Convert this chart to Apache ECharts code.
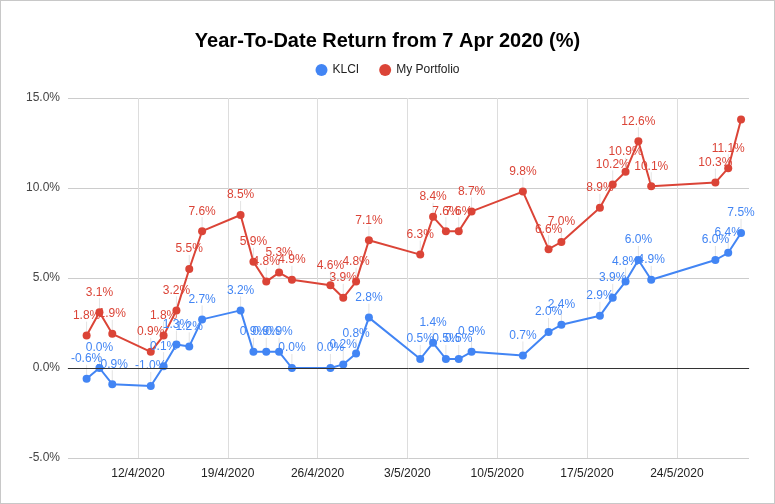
<!DOCTYPE html>
<html>
<head>
<meta charset="utf-8">
<script src="https://cdn.jsdelivr.net/npm/echarts@6/dist/echarts.min.js"></script>
<style>
html,body{margin:0;padding:0;background:#fff;}
#c{width:773px;height:502px;border:1px solid #c8c8c8;}
</style>
</head>
<body>
<div id="c"></div>
<script>
const dates = ['2020-04-08','2020-04-09','2020-04-10','2020-04-13','2020-04-14','2020-04-15','2020-04-16','2020-04-17',
  '2020-04-20','2020-04-21','2020-04-22','2020-04-23','2020-04-24','2020-04-27','2020-04-28','2020-04-29','2020-04-30',
  '2020-05-04','2020-05-05','2020-05-06','2020-05-07','2020-05-08','2020-05-12','2020-05-14','2020-05-15',
  '2020-05-18','2020-05-19','2020-05-20','2020-05-21','2020-05-22','2020-05-27','2020-05-28','2020-05-29'];
const klci = [-0.6, 0.0, -0.9, -1.0, 0.1, 1.3, 1.2, 2.7, 3.2, 0.9, 0.9, 0.9, 0.0, 0.0, 0.2, 0.8, 2.8,
  0.5, 1.4, 0.5, 0.5, 0.9, 0.7, 2.0, 2.4, 2.9, 3.9, 4.8, 6.0, 4.9, 6.0, 6.4, 7.5];
const portfolio = [1.8, 3.1, 1.9, 0.9, 1.8, 3.2, 5.5, 7.6, 8.5, 5.9, 4.8, 5.3, 4.9, 4.6, 3.9, 4.8, 7.1,
  6.3, 8.4, 7.6, 7.6, 8.7, 9.8, 6.6, 7.0, 8.9, 10.2, 10.9, 12.6, 10.1, 10.3, 11.1, 13.8];
const weekTicks = ['2020-04-12','2020-04-19','2020-04-26','2020-05-03','2020-05-10','2020-05-17','2020-05-24'];
const xRange = ['2020-04-06', '2020-05-29'];
const yTicks = [-5, 0, 5, 10, 15];
const hiddenLabels = { 'My Portfolio': ['2020-05-29'] };

const DAY = 86400000;
const ORIGIN = Date.UTC(2020, 0, 1);
function dayNum(s) { const p = s.split('-').map(Number); return (Date.UTC(p[0], p[1] - 1, p[2]) - ORIGIN) / DAY; }
function dayLabel(n) { const d = new Date(ORIGIN + Math.round(n) * DAY); return d.getUTCDate() + '/' + (d.getUTCMonth() + 1) + '/' + d.getUTCFullYear(); }

const FONT = '"Liberation Sans", Arial, sans-serif';
function ser(name, vals, color) {
  return {
    name: name, type: 'line', symbol: 'circle', symbolSize: 8,
    lineStyle: { width: 2, color: color }, itemStyle: { color: color },
    data: dates.map((d, i) => {
      const o = { value: [dayNum(d), vals[i]] };
      if ((hiddenLabels[name] || []).includes(d)) o.label = { show: false };
      return o;
    }),
    label: { show: true, position: 'top', distance: 4, color: color, fontFamily: FONT, fontSize: 12,
      formatter: p => p.value[1].toFixed(1) + '%' },
    labelLayout: { dy: -6 },
    labelLine: { show: true, lineStyle: { color: '#e3e3e3', width: 1 } },
    animation: false
  };
}
const ticks = weekTicks.map(dayNum);
const chart = echarts.init(document.getElementById('c'));
chart.setOption({
  animation: false,
  title: { text: 'Year-To-Date Return from 7 Apr 2020 (%)', left: 'center', top: 25,
    textStyle: { fontFamily: FONT, fontSize: 20, fontWeight: 'bold', color: '#000' } },
  legend: { top: 58, left: 'center', icon: 'circle', itemWidth: 12, itemHeight: 12, itemGap: 20,
    data: ['KLCI', 'My Portfolio'],
    textStyle: { fontFamily: FONT, fontSize: 12, color: '#222' } },
  grid: { left: 67, right: 25, top: 97, bottom: 45 },
  xAxis: {
    type: 'value', min: dayNum(xRange[0]) + 0.55, max: dayNum(xRange[1]) + 0.62,
    axisLine: { lineStyle: { color: '#cccccc' } },
    axisTick: { show: false, customValues: ticks },
    splitLine: { show: true, lineStyle: { color: '#dddddd', width: 1 } },
    axisLabel: { customValues: ticks, color: '#222', fontFamily: FONT, fontSize: 12, margin: 10,
      formatter: v => dayLabel(v) }
  },
  yAxis: {
    type: 'value', min: yTicks[0], max: yTicks[yTicks.length - 1], interval: 5,
    axisLine: { show: false }, axisTick: { show: false },
    splitLine: { lineStyle: { color: '#cccccc' } },
    axisLabel: { color: '#444', fontFamily: FONT, fontSize: 12, margin: 8, formatter: v => v.toFixed(1) + '%' }
  },
  series: [
    ser('KLCI', klci, '#4285F4'),
    ser('My Portfolio', portfolio, '#DB4437'),
    { type: 'line', data: [], markLine: { silent: true, symbol: 'none', label: { show: false },
      lineStyle: { color: '#333', width: 1, type: 'solid' }, data: [{ yAxis: 0 }] } }
  ]
});
</script>
</body>
</html>
